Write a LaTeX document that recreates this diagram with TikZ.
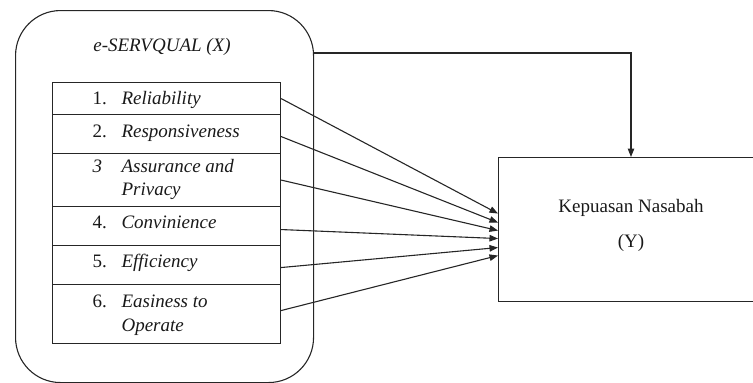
\documentclass[tikz,border=0pt]{standalone}
\usepackage{fontspec}
\setmainfont{Liberation Serif}
\usetikzlibrary{arrows.meta,calc}
\begin{document}
\begin{tikzpicture}[x=1pt,y=-1pt,line width=1.1pt,
  box/.style={draw=black!85, rectangle, inner sep=0pt, anchor=north west},
  txt/.style={anchor=base west, inner sep=0pt, text=black!90, font=\fontsize{19}{22}\selectfont},
  arr/.style={draw=black!85, -{Triangle[length=8.5pt,width=6.5pt]}}]
\clip (0,0) rectangle (753,383);
\useasboundingbox (0,0) rectangle (753,383);
% outer rounded frame
\node[box, rounded corners=45pt, minimum width=298pt, minimum height=372pt] (outer) at (15,10) {};
\node[txt, anchor=base] (title) at (162,51) {\textit{e-SERVQUAL (X)}};
% table rows
\node[box, minimum width=228pt, minimum height=32pt] (r1) at (52,82) {};
\node[box, minimum width=228pt, minimum height=39pt] (r2) at (52,114) {};
\node[box, minimum width=228pt, minimum height=53pt] (r3) at (52,153) {};
\node[box, minimum width=228pt, minimum height=39pt] (r4) at (52,206) {};
\node[box, minimum width=228pt, minimum height=39pt] (r5) at (52,245) {};
\node[box, minimum width=228pt, minimum height=59pt] (r6) at (52,284) {};
% row texts
\node[txt] (n1) at (92,104) {1.};
\node[txt] (l1) at (121,104) {\textit{Reliability}};
\node[txt] (n2) at (92,137) {2.};
\node[txt] (l2) at (121,137) {\textit{Responsiveness}};
\node[txt] (n3) at (92,172) {\textit{3}};
\node[txt] (l3a) at (121,172) {\textit{Assurance and}};
\node[txt] (l3b) at (121,195) {\textit{Privacy}};
\node[txt] (n4) at (92,228) {4.};
\node[txt] (l4) at (121,228) {\textit{Convinience}};
\node[txt] (n5) at (92,267) {5.};
\node[txt] (l5) at (121,267) {\textit{Efficiency}};
\node[txt] (n6) at (92,307) {6.};
\node[txt] (l6a) at (121,307) {\textit{Easiness to}};
\node[txt] (l6b) at (121,331) {\textit{Operate}};
% dependent variable box
\node[box, minimum width=262pt, minimum height=144pt] (ky) at (498,157) {};
\node[txt, anchor=base] (kyt) at (631,212) {Kepuasan Nasabah};
\node[txt, anchor=base] (kyy) at (631,247) {(Y)};
% connectors
\coordinate (t) at (631,53);
\draw[arr] (outer.east |- t) -| (ky.north -| t);
\draw[arr] (r1.east) -- ($(ky.west)+(0,-16)$);
\draw[arr] ($(r2.east)+(0,2.5)$) -- ($(ky.west)+(0,-7)$);
\draw[arr] (r3.east) -- ($(ky.west)+(0,1)$);
\draw[arr] ($(r4.east)+(0,3.5)$) -- ($(ky.west)+(0,9)$);
\draw[arr] ($(r5.east)+(0,2.5)$) -- ($(ky.west)+(0,18)$);
\draw[arr] ($(r6.east)+(0,-3.5)$) -- ($(ky.west)+(0,26)$);
\end{tikzpicture}
\end{document}
